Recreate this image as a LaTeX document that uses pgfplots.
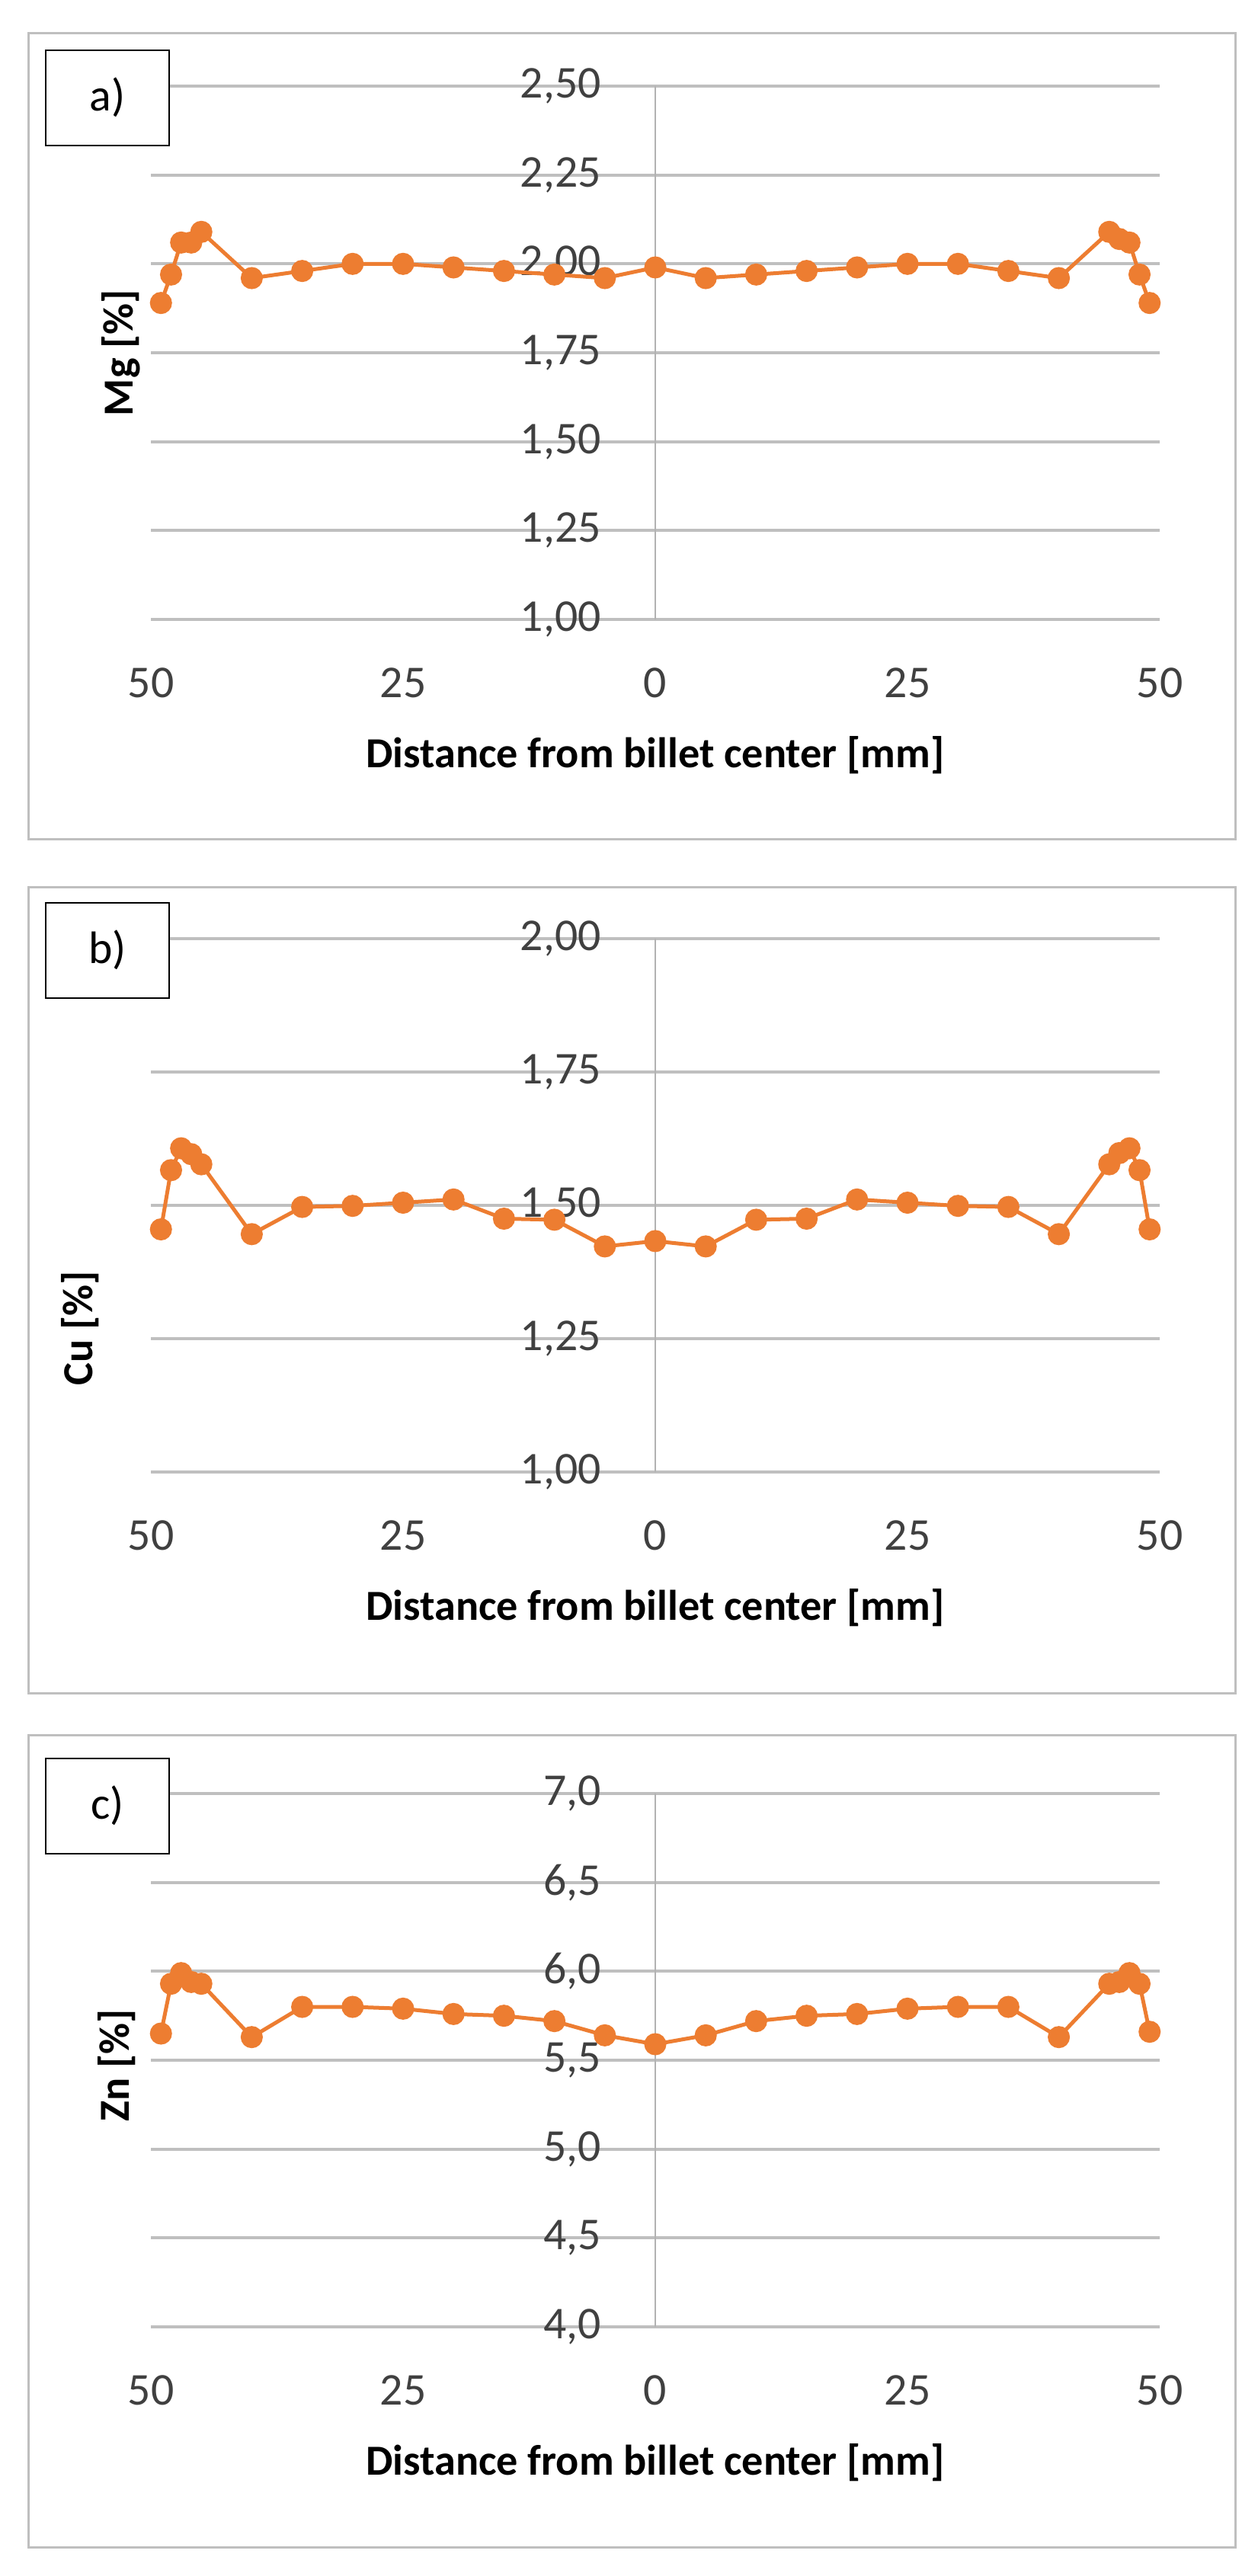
\documentclass[border=0pt]{standalone}
\usepackage{pgfplots}
\pgfplotsset{compat=1.18}
\usepackage{fontspec}
\setmainfont{Carlito}
\definecolor{orng}{HTML}{ED7D31}
\definecolor{grd}{HTML}{BFBFBF}
\definecolor{txt}{HTML}{404040}
\pgfplotsset{
  panel/.style={
    width=13.24cm, height=7cm, scale only axis,
    xmin=-50, xmax=50, axis x line*=bottom, axis y line*=left, axis line style={draw=none},
    xtick={-50,-25,0,25,50}, xticklabels={50,25,0,25,50},
    ymajorgrids, major grid style={grd, line width=0.04cm},
    major tick length=0pt, tick style={draw=none},
    /pgf/number format/assume math mode=true,
    /pgf/number format/use comma, /pgf/number format/fixed, /pgf/number format/fixed zerofill,
    xticklabel style={anchor=center, yshift=-0.83cm, font=\fontsize{17}{20}\selectfont, text=txt},
    yticklabel style={anchor=east, xshift=6.03cm, font=\fontsize{17}{20}\selectfont, text=txt},
    xlabel={Distance from billet center [mm]},
    xlabel style={at={(axis description cs:0.5,-0.254)}, anchor=center, font=\fontsize{16}{19}\selectfont\bfseries},
    clip=false,
  },
  ser/.style={orng, line width=0.05cm, mark=*, mark size=0.12cm, mark options={fill=orng, draw=orng}},
}
\begin{document}
\begin{tikzpicture}
\path[fill=white] (0,0) rectangle (16.5,-33.81);
\draw[grd, line width=0.03cm] (0.37,-0.44) rectangle (16.21,-11.01);
\draw[grd, line width=0.03cm] (0.37,-11.64) rectangle (16.21,-22.22);
\draw[grd, line width=0.03cm] (0.37,-22.77) rectangle (16.21,-33.43);

\begin{axis}[panel, at={(1.98cm,-1.13cm)}, anchor=north west,
  ymin=1, ymax=2.5, ytick={1,1.25,...,2.5}, /pgf/number format/precision=2,
  ylabel={Mg [\%]}, ylabel style={at={(axis description cs:-0.03,0.5)}, anchor=center, font=\fontsize{16}{19}\selectfont\bfseries}]
\draw[grd!80!gray, line width=0.015cm] (axis cs:0,1) -- (axis cs:0,2.5);
\addplot[ser] coordinates {(-49,1.89)(-48,1.97)(-47,2.06)(-46,2.06)(-45,2.09)(-40,1.96)(-35,1.98)(-30,2.00)(-25,2.00)(-20,1.99)(-15,1.98)(-10,1.97)(-5,1.96)(0,1.99)(5,1.96)(10,1.97)(15,1.98)(20,1.99)(25,2.00)(30,2.00)(35,1.98)(40,1.96)(45,2.09)(46,2.07)(47,2.06)(48,1.97)(49,1.89)};
\end{axis}

\begin{axis}[panel, at={(1.98cm,-12.32cm)}, anchor=north west,
  ymin=1, ymax=2, ytick={1,1.25,...,2}, /pgf/number format/precision=2,
  ylabel={Cu [\%]}, ylabel style={at={(axis description cs:-0.07,0.27)}, anchor=center, font=\fontsize{16}{19}\selectfont\bfseries}]
\draw[grd!80!gray, line width=0.015cm] (axis cs:0,1) -- (axis cs:0,2);
\addplot[ser] coordinates {(-49,1.455)(-48,1.566)(-47,1.607)(-46,1.596)(-45,1.577)(-40,1.446)(-35,1.497)(-30,1.499)(-25,1.505)(-20,1.511)(-15,1.475)(-10,1.473)(-5,1.423)(0,1.433)(5,1.423)(10,1.473)(15,1.475)(20,1.511)(25,1.505)(30,1.499)(35,1.497)(40,1.446)(45,1.577)(46,1.598)(47,1.607)(48,1.566)(49,1.455)};
\end{axis}

\begin{axis}[panel, at={(1.98cm,-23.54cm)}, anchor=north west,
  ymin=4, ymax=7, ytick={4,4.5,...,7}, /pgf/number format/precision=1,
  ylabel={Zn [\%]}, ylabel style={at={(axis description cs:-0.034,0.49)}, anchor=center, font=\fontsize{16}{19}\selectfont\bfseries}]
\draw[grd!80!gray, line width=0.015cm] (axis cs:0,4) -- (axis cs:0,7);
\addplot[ser] coordinates {(-49,5.65)(-48,5.93)(-47,5.99)(-46,5.94)(-45,5.93)(-40,5.63)(-35,5.80)(-30,5.80)(-25,5.79)(-20,5.76)(-15,5.75)(-10,5.72)(-5,5.64)(0,5.59)(5,5.64)(10,5.72)(15,5.75)(20,5.76)(25,5.79)(30,5.80)(35,5.80)(40,5.63)(45,5.93)(46,5.94)(47,5.99)(48,5.93)(49,5.66)};
\end{axis}

\foreach \t/\y in {a)/0.66, b)/11.85, c)/23.08}{
  \draw[black, line width=0.02cm, fill=white] (0.60,-\y) rectangle (2.22,-\y-1.25);
  \node[font=\fontsize{17}{20}\selectfont] at (1.41,-\y-0.62) {\t};
}
\end{tikzpicture}
\end{document}
